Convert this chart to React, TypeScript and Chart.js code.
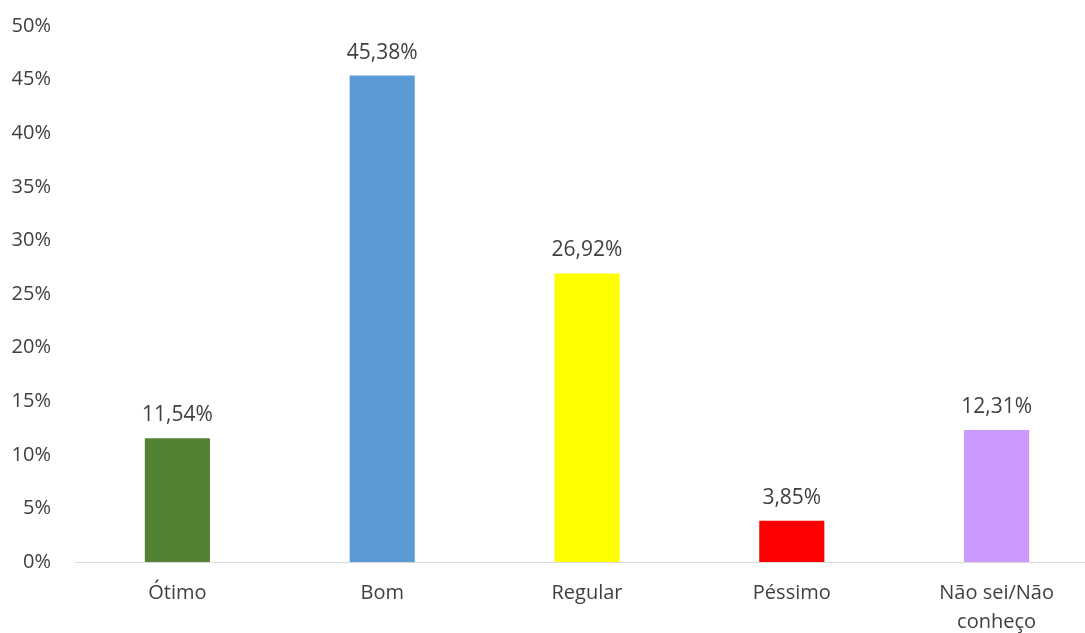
import React, { useEffect, useRef } from "react";
import { Chart, registerables } from "chart.js";

Chart.register(...registerables);

const categories: (string | string[])[] = ["Ótimo", "Bom", "Regular", "Péssimo", ["Não sei/Não", "conheço"]];
const values: number[] = [11.54, 45.38, 26.92, 3.85, 12.31];
const barColors: string[] = ["#548235", "#5B9BD5", "#FFFF00", "#FF0000", "#CC99FF"];
const yTicksMax = 50;
const yTickStep = 5;

const FONT = "'Open Sans', 'Noto Sans', sans-serif";
const TEXT = "#404040";

const dataLabelPlugin = {
  id: "dataLabels",
  afterDatasetsDraw(chart: any) {
    const ctx = chart.ctx;
    const meta = chart.getDatasetMeta(0);
    ctx.save();
    ctx.font = `21px ${FONT}`;
    ctx.fillStyle = TEXT;
    ctx.textAlign = "center";
    ctx.textBaseline = "alphabetic";
    meta.data.forEach((bar: any, i: number) => {
      const label = values[i].toFixed(2).replace(".", ",") + "%";
      ctx.fillText(label, bar.x, bar.y - 17);
    });
    ctx.restore();
  },
};

export default function App() {
  const ref = useRef<HTMLCanvasElement | null>(null);
  useEffect(() => {
    if (!ref.current) return;
    const chart = new Chart(ref.current, {
      type: "bar",
      data: {
        labels: categories,
        datasets: [
          {
            data: values,
            backgroundColor: barColors,
            borderWidth: 0,
            categoryPercentage: 1,
            barPercentage: 0.318,
          },
        ],
      },
      options: {
        responsive: false,
        animation: false,
        layout: { padding: { top: 26, left: 0, right: 0, bottom: 0 } },
        plugins: { legend: { display: false }, tooltip: { enabled: false } },
        scales: {
          x: {
            grid: { display: false, drawTicks: false },
            border: { display: true, color: "#D9D9D9", width: 1 },
            ticks: {
              color: TEXT,
              font: { family: FONT, size: 20, lineHeight: 1.45 },
              padding: 17,
              maxRotation: 0,
              autoSkip: false,
            },
            afterFit(scale: any) {
              scale.height = 71;
              scale.paddingLeft = 0;
              scale.paddingRight = 0;
            },
          },
          y: {
            min: 0,
            max: yTicksMax,
            grid: { display: false, drawTicks: false },
            border: { display: false },
            ticks: {
              stepSize: yTickStep,
              color: TEXT,
              font: { family: FONT, size: 20 },
              padding: 24,
              callback: (v: any) => v + "%",
            },
            afterFit(scale: any) {
              scale.width = 75;
              scale.paddingTop = 0;
              scale.paddingBottom = 0;
            },
          },
        },
      },
      plugins: [dataLabelPlugin],
    });
    return () => chart.destroy();
  }, []);
  return (
    <div style={{ position: "fixed", left: 0, top: 0, width: 1085, height: 633, overflow: "hidden", background: "#fff" }}>
      <canvas ref={ref} width={1099} height={633} style={{ display: "block" }} />
    </div>
  );
}
